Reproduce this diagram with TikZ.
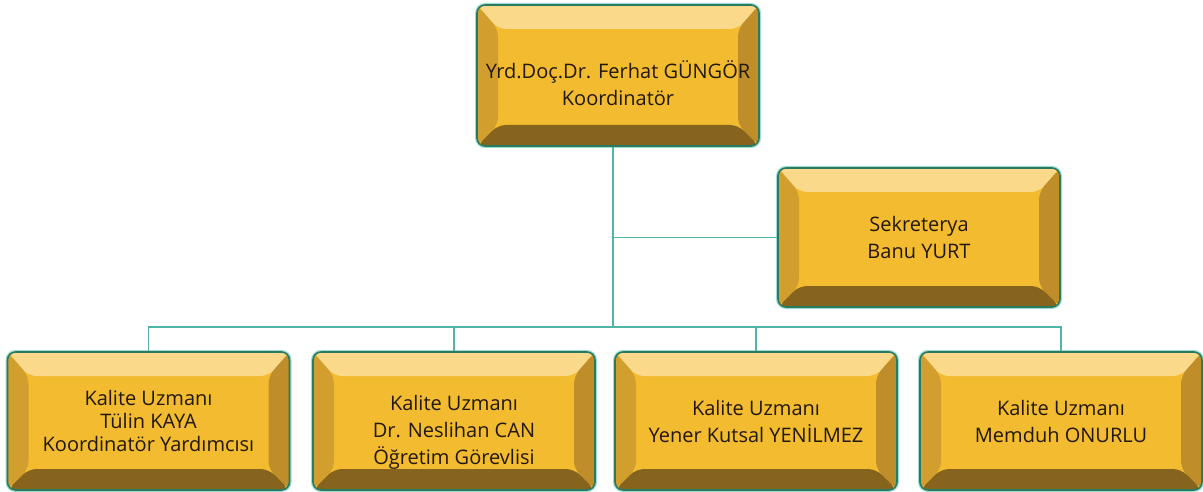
\documentclass[tikz,border=0pt]{standalone}
\usepackage{fontspec}
\setmainfont{Open Sans}
\usepackage{xcolor}
\usepackage{tikz}
\usetikzlibrary{calc}

\definecolor{facegold}{HTML}{F2BB30}
\definecolor{bevtop}{HTML}{FBD98A}
\definecolor{bevleft}{HTML}{D29E2E}
\definecolor{bevright}{HTML}{BF8E2A}
\definecolor{bevbottom}{HTML}{86641E}
\definecolor{boxline}{HTML}{2A7A60}
\definecolor{boxglow}{HTML}{9FDCD4}
\definecolor{linkteal}{HTML}{4FB5A5}
\definecolor{textbrown}{HTML}{231708}

\begin{document}
\begin{tikzpicture}[x=1pt, y=-1pt,
  every node/.style={font=\fontsize{20}{27}\selectfont},
  goldbox/.style={draw=boxline, line width=1.6pt, rounded corners=8pt, fill=facegold,
    preaction={draw=boxglow, line width=4pt},
    minimum width=282pt, minimum height=139pt, align=center, text=textbrown, inner sep=0pt,
    path picture={
      \path (path picture bounding box.north west) coordinate (bnw)
            (path picture bounding box.south east) coordinate (bse);
      \fill[bevtop] (bnw) -- (bse |- bnw) -- ($(bse |- bnw)+(-21pt,-24pt)$) -- ($(bnw)+(21pt,-24pt)$) -- cycle;
      \fill[bevleft] (bnw) -- ($(bnw)+(21pt,-24pt)$) -- ($(bnw |- bse)+(21pt,21pt)$) -- (bnw |- bse) -- cycle;
      \fill[bevright] (bse |- bnw) -- (bse) -- ($(bse)+(-21pt,21pt)$) -- ($(bse |- bnw)+(-21pt,-24pt)$) -- cycle;
      \fill[bevbottom] (bnw |- bse) -- ($(bnw |- bse)+(21pt,21pt)$) -- ($(bse)+(-21pt,21pt)$) -- (bse) -- cycle;
    }},
  sink/.style={execute at begin node={\rule{0pt}{#1}}},
  link/.style={draw=linkteal, line width=1.5pt},
]
\useasboundingbox (0,0) rectangle (1203,492);

\node[goldbox, minimum height=141pt, sink=60pt] (coord) at (618,75.5) {Yrd.Doç.Dr. Ferhat GÜNGÖR\\Koordinatör};
\node[goldbox] (sek) at (919,237.5) {Sekreterya\\Banu YURT};
\node[goldbox, minimum height=138pt, font=\fontsize{20}{23}\selectfont] (k1) at (148.5,421) {Kalite Uzmanı\\Tülin KAYA\\Koordinatör Yardımcısı};
\node[goldbox, minimum height=138pt, sink=91pt] (k2) at (454,421) {Kalite Uzmanı\\Dr. Neslihan CAN\\Öğretim Görevlisi};
\node[goldbox, minimum height=138pt] (k3) at (756,421) {Kalite Uzmanı\\Yener Kutsal YENİLMEZ};
\node[goldbox, minimum height=138pt] (k4) at (1061,421) {Kalite Uzmanı\\Memduh ONURLU};

\coordinate (bus) at (613,327);
\draw[link] ($(coord.south)+(-5,0)$) -- (bus);
\draw[link] (sek.west) -- (sek.west -| bus);
\draw[link] (k1.north) -- (k1.north |- bus) -- (k4.north |- bus) -- (k4.north);
\draw[link] (k2.north) -- (k2.north |- bus);
\draw[link] (k3.north) -- (k3.north |- bus);
\end{tikzpicture}
\end{document}
